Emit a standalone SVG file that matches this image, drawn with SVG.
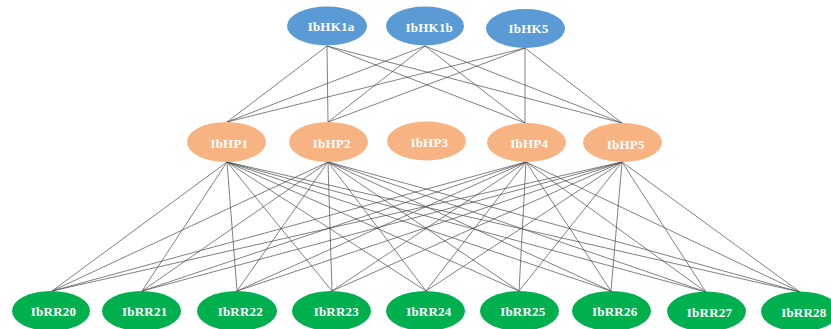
<svg xmlns="http://www.w3.org/2000/svg" width="831" height="329" viewBox="0 0 831 329">
<style>
.e{stroke:#4a4a4a;stroke-width:0.7;fill:none}
.hk{fill:#5B9BD5}
.hp{fill:#F7B382}
.rr{fill:#00B04F}
text{font-family:"Liberation Serif","Times New Roman",serif;font-weight:bold;font-size:13px;letter-spacing:0.2px;fill:#fff;text-anchor:middle}
</style>
<rect width="831" height="329" fill="#fff"/>
<g id="connectors">
<line class="e" x1="327" y1="46" x2="227" y2="122"/>
<line class="e" x1="327" y1="46" x2="328" y2="122"/>
<line class="e" x1="327" y1="46" x2="525" y2="123"/>
<line class="e" x1="327" y1="46" x2="622" y2="123"/>
<line class="e" x1="425" y1="46" x2="227" y2="122"/>
<line class="e" x1="425" y1="46" x2="328" y2="122"/>
<line class="e" x1="425" y1="46" x2="525" y2="123"/>
<line class="e" x1="425" y1="46" x2="622" y2="123"/>
<line class="e" x1="525" y1="48" x2="227" y2="122"/>
<line class="e" x1="525" y1="48" x2="328" y2="122"/>
<line class="e" x1="525" y1="48" x2="525" y2="123"/>
<line class="e" x1="525" y1="48" x2="622" y2="123"/>
<line class="e" x1="227" y1="162" x2="52" y2="291"/>
<line class="e" x1="227" y1="162" x2="142" y2="291"/>
<line class="e" x1="227" y1="162" x2="237" y2="291"/>
<line class="e" x1="227" y1="162" x2="332" y2="291"/>
<line class="e" x1="227" y1="162" x2="426" y2="291"/>
<line class="e" x1="227" y1="162" x2="519" y2="291"/>
<line class="e" x1="227" y1="162" x2="611" y2="291"/>
<line class="e" x1="227" y1="162" x2="706" y2="292"/>
<line class="e" x1="227" y1="162" x2="800" y2="292"/>
<line class="e" x1="328" y1="162" x2="52" y2="291"/>
<line class="e" x1="328" y1="162" x2="142" y2="291"/>
<line class="e" x1="328" y1="162" x2="237" y2="291"/>
<line class="e" x1="328" y1="162" x2="332" y2="291"/>
<line class="e" x1="328" y1="162" x2="426" y2="291"/>
<line class="e" x1="328" y1="162" x2="519" y2="291"/>
<line class="e" x1="328" y1="162" x2="611" y2="291"/>
<line class="e" x1="328" y1="162" x2="706" y2="292"/>
<line class="e" x1="328" y1="162" x2="800" y2="292"/>
<line class="e" x1="526" y1="162" x2="52" y2="291"/>
<line class="e" x1="526" y1="162" x2="142" y2="291"/>
<line class="e" x1="526" y1="162" x2="237" y2="291"/>
<line class="e" x1="526" y1="162" x2="332" y2="291"/>
<line class="e" x1="526" y1="162" x2="426" y2="291"/>
<line class="e" x1="526" y1="162" x2="519" y2="291"/>
<line class="e" x1="526" y1="162" x2="611" y2="291"/>
<line class="e" x1="526" y1="162" x2="706" y2="292"/>
<line class="e" x1="526" y1="162" x2="800" y2="292"/>
<line class="e" x1="622" y1="162" x2="52" y2="291"/>
<line class="e" x1="622" y1="162" x2="142" y2="291"/>
<line class="e" x1="622" y1="162" x2="237" y2="291"/>
<line class="e" x1="622" y1="162" x2="332" y2="291"/>
<line class="e" x1="622" y1="162" x2="426" y2="291"/>
<line class="e" x1="622" y1="162" x2="519" y2="291"/>
<line class="e" x1="622" y1="162" x2="611" y2="291"/>
<line class="e" x1="622" y1="162" x2="706" y2="292"/>
<line class="e" x1="622" y1="162" x2="800" y2="292"/>
</g>
<g id="IbHK1a"><ellipse class="hk" cx="327" cy="26" rx="40" ry="19.5"/><text x="331" y="31">IbHK1a</text></g>
<g id="IbHK1b"><ellipse class="hk" cx="425" cy="26" rx="39" ry="19.5"/><text x="429.3" y="31.5">IbHK1b</text></g>
<g id="IbHK5"><ellipse class="hk" cx="525.5" cy="28.5" rx="39.5" ry="19.5"/><text x="528.5" y="33.3">IbHK5</text></g>
<g id="IbHP1"><ellipse class="hp" cx="226.5" cy="142" rx="39.5" ry="20"/><text x="229.3" y="148">IbHP1</text></g>
<g id="IbHP2"><ellipse class="hp" cx="328.5" cy="142" rx="39.5" ry="20"/><text x="331.7" y="148">IbHP2</text></g>
<g id="IbHP3"><ellipse class="hp" cx="426.5" cy="141" rx="39.5" ry="19.5"/><text x="429.3" y="146.7">IbHP3</text></g>
<g id="IbHP4"><ellipse class="hp" cx="526.5" cy="142.5" rx="39.5" ry="19.5"/><text x="529.2" y="147.5">IbHP4</text></g>
<g id="IbHP5"><ellipse class="hp" cx="622.5" cy="142.5" rx="39.5" ry="19.5"/><text x="625.7" y="149">IbHP5</text></g>
<g id="IbRR20"><ellipse class="rr" cx="51" cy="311" rx="39" ry="20"/><text x="53.5" y="316">IbRR20</text></g>
<g id="IbRR21"><ellipse class="rr" cx="141.5" cy="311" rx="39.5" ry="20"/><text x="144.7" y="316">IbRR21</text></g>
<g id="IbRR22"><ellipse class="rr" cx="237" cy="311" rx="40" ry="20"/><text x="240.3" y="316">IbRR22</text></g>
<g id="IbRR23"><ellipse class="rr" cx="331.5" cy="311" rx="39.5" ry="20"/><text x="336.3" y="316">IbRR23</text></g>
<g id="IbRR24"><ellipse class="rr" cx="425.5" cy="311" rx="39.5" ry="20"/><text x="428.8" y="316">IbRR24</text></g>
<g id="IbRR25"><ellipse class="rr" cx="519.5" cy="311" rx="39.5" ry="20"/><text x="522.8" y="316">IbRR25</text></g>
<g id="IbRR26"><ellipse class="rr" cx="611.5" cy="311" rx="39.5" ry="20"/><text x="614.7" y="316">IbRR26</text></g>
<g id="IbRR27"><ellipse class="rr" cx="706.5" cy="311.5" rx="39.5" ry="20"/><text x="709.5" y="317">IbRR27</text></g>
<g id="IbRR28"><ellipse class="rr" cx="800" cy="311.5" rx="39" ry="20"/><text x="803.8" y="317">IbRR28</text></g>
</svg>
